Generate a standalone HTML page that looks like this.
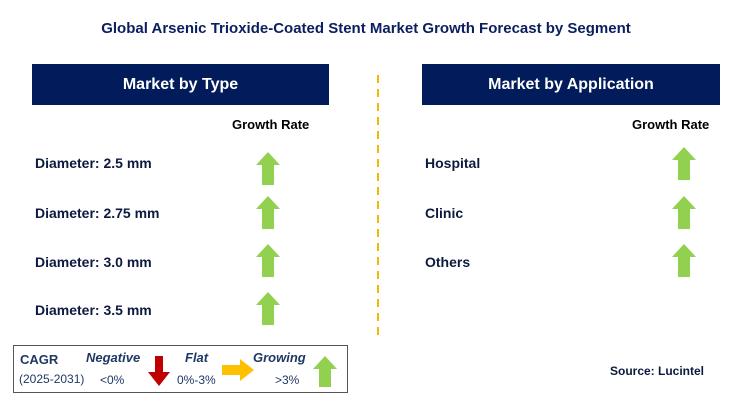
<!DOCTYPE html>
<html><head><meta charset="utf-8"><style>
body{margin:0;width:732px;height:411px;background:#fff;position:relative;overflow:hidden;font-family:"Liberation Sans",Arial,sans-serif}
.a{position:absolute}
.title{left:0;width:732px;top:20px;text-align:center;font-weight:bold;font-size:15px;color:#0b1f5e}
.hdr{background:#021b5b;color:#fff;font-weight:bold;font-size:16px;text-align:center;line-height:41px;height:41px;top:64px}
.gr{font-family:"Liberation Sans",sans-serif;font-size:13px;font-weight:bold;top:117px}
.lab{font-weight:bold;font-size:14px;color:#0b1a3e}
.leg{font-family:"Liberation Sans",sans-serif;font-size:12px;color:#1f3864}
</style></head><body>
<div class="a title">Global Arsenic Trioxide-Coated Stent Market Growth Forecast by Segment</div>
<div class="a hdr" style="left:32px;width:297px">Market by Type</div>
<div class="a hdr" style="left:422px;width:298px">Market by Application</div>
<div class="a gr" style="left:232px">Growth Rate</div>
<div class="a gr" style="left:632px">Growth Rate</div>
<svg class="a" style="left:0;top:0" width="732" height="411">
<line x1="378" y1="75" x2="378" y2="335" stroke="#f5b800" stroke-width="2" stroke-dasharray="8,6"/>
<g fill="#92d050">
<polygon points="268,152 280,165 274,165 274,185 262,185 262,165 256,165"/>
<polygon points="268,196 280,209 274,209 274,229 262,229 262,209 256,209"/>
<polygon points="268,244 280,257 274,257 274,277 262,277 262,257 256,257"/>
<polygon points="268,292 280,305 274,305 274,325 262,325 262,305 256,305"/>
<polygon points="684,147 696,160 690,160 690,180 678,180 678,160 672,160"/>
<polygon points="684,196 696,209 690,209 690,229 678,229 678,209 672,209"/>
<polygon points="684,244 696,257 690,257 690,277 678,277 678,257 672,257"/>
<polygon points="325,356 337,369 331,369 331,387 319,387 319,369 313,369"/>
</g>
<rect x="13.5" y="345.5" width="334" height="47" fill="none" stroke="#555"/>
<polygon points="155,356 163,356 163,372 170,372 159,386 148,372 155,372" fill="#c00000"/>
<polygon points="222,365 240,365 240,359 254,370 240,381 240,375 222,375" fill="#ffc000"/>
</svg>
<div class="a lab" style="left:35px;top:155px">Diameter: 2.5 mm</div>
<div class="a lab" style="left:35px;top:205px">Diameter: 2.75 mm</div>
<div class="a lab" style="left:35px;top:254px">Diameter: 3.0 mm</div>
<div class="a lab" style="left:35px;top:302px">Diameter: 3.5 mm</div>
<div class="a lab" style="left:425px;top:155px">Hospital</div>
<div class="a lab" style="left:425px;top:205px">Clinic</div>
<div class="a lab" style="left:425px;top:254px">Others</div>
<div class="a leg" style="left:20px;top:352px;font-weight:bold;font-size:13px">CAGR</div>
<div class="a leg" style="left:19px;top:372px">(2025-2031)</div>
<div class="a leg" style="left:86px;top:350px;font-weight:bold;font-style:italic;font-size:13px">Negative</div>
<div class="a leg" style="left:100px;top:373px">&lt;0%</div>
<div class="a leg" style="left:185px;top:350px;font-weight:bold;font-style:italic;font-size:13px">Flat</div>
<div class="a leg" style="left:177px;top:373px">0%-3%</div>
<div class="a leg" style="left:253px;top:350px;font-weight:bold;font-style:italic;font-size:13px">Growing</div>
<div class="a leg" style="left:275px;top:373px">&gt;3%</div>
<div class="a" style="left:610px;top:364px;font-weight:bold;font-size:12px;color:#0b1a3e">Source: Lucintel</div>
</body></html>
